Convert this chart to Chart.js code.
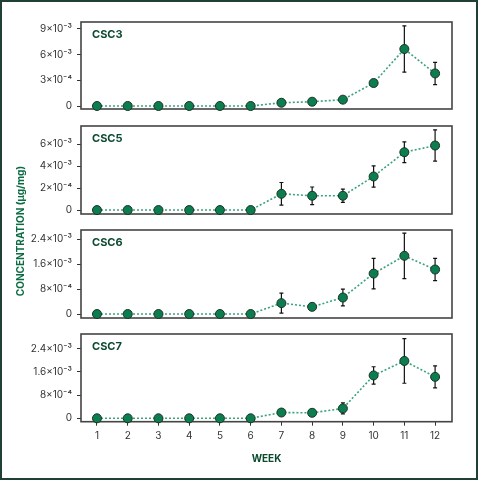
<!DOCTYPE html>
<html>
<head>
<meta charset="utf-8">
<script src="https://cdn.jsdelivr.net/npm/chart.js@4.4.0/dist/chart.umd.min.js"></script>
<style>
  body { margin: 0; background: #fff; }
  #wrap { position: relative; width: 478px; height: 480px; overflow: hidden; }
  #wrap canvas { position: absolute; left: 0; }
  #frame { position: absolute; left: 0; top: 0; width: 478px; height: 480px; box-sizing: border-box;
           border: 2px solid #1f3f37; pointer-events: none; }
  #ytitle { position: absolute; left: 20px; top: 231px; transform: translate(-50%, -50%) rotate(-90deg);
            white-space: nowrap; font: bold 10px Inter, "DejaVu Sans", sans-serif; color: #0b6b43; }
</style>
</head>
<body>
<div id="wrap">
  <canvas id="c3" width="478" height="99" style="top:16px"></canvas>
  <canvas id="c5" width="478" height="100" style="top:120px"></canvas>
  <canvas id="c6" width="478" height="100" style="top:224px"></canvas>
  <canvas id="c7" width="478" height="150" style="top:328px"></canvas>
  <div id="ytitle">CONCENTRATION (µg/mg)</div>
  <div id="frame"></div>
</div>
<script>
var weeks = [1, 2, 3, 4, 5, 6, 7, 8, 9, 10, 11, 12];

var csc3 = [0, 0, 0, 0, 0, 0, 0.00038, 0.0005, 0.00074, 0.00268, 0.00665, 0.0038];
var csc3Err = [0, 0, 0, 0, 0, 0, 0.00005, 0.00005, 0.00008, 0.0003, 0.0027, 0.0013];

var csc5 = [0, 0, 0, 0, 0, 0, 0.00148, 0.0013, 0.0013, 0.00306, 0.00527, 0.00588];
var csc5Err = [0.0001, 0, 0, 0, 0, 0, 0.00103, 0.0008, 0.0006, 0.00097, 0.00094, 0.00142];

var csc6 = [0, 0, 0, 0, 0, 0, 0.00035, 0.00023, 0.00053, 0.0013, 0.00187, 0.00143];
var csc6Err = [0, 0, 0, 0, 0, 0, 0.00032, 0.00011, 0.00027, 0.00049, 0.00073, 0.00036];

var csc7 = [0, 0, 0, 0, 0, 0, 0.0002, 0.00019, 0.00034, 0.00148, 0.00198, 0.00143];
var csc7Err = [0, 0, 0, 0, 0, 0, 0.00003, 0.0001, 0.00019, 0.0003, 0.00077, 0.00038];

var ticks3 = [0, 0.003, 0.006, 0.009];
var labels3 = ["0", "3x10⁻⁴", "6x10⁻³", "9x10⁻³"];
var ticks5 = [0, 0.002, 0.004, 0.006];
var labels5 = ["0", "2x10⁻⁴", "4x10⁻³", "6x10⁻³"];
var ticks6 = [0, 0.0008, 0.0016, 0.0024];
var labels6 = ["0", "8x10⁻⁴", "1.6x10⁻³", "2.4x10⁻³"];
var ticks7 = [0, 0.0008, 0.0016, 0.0024];
var labels7 = ["0", "8x10⁻⁴", "1.6x10⁻³", "2.4x10⁻³"];

Chart.defaults.font.family = "Inter, 'DejaVu Sans', sans-serif";
Chart.defaults.color = "#333";

// error bars + panel frame + panel name
var panelPlugin = {
  id: "panel",
  beforeDatasetsDraw: function (chart, args, opts) {
    var ctx = chart.ctx, a = chart.chartArea;
    var xs = chart.scales.x, ys = chart.scales.y;
    var vals = chart.data.datasets[0].data;
    ctx.save();
    ctx.strokeStyle = "#444";
    ctx.lineWidth = 1.6;
    ctx.strokeRect(a.left, a.top, a.right - a.left, a.bottom - a.top);
    ctx.strokeStyle = "#111";
    ctx.lineWidth = 1.2;
    vals.forEach(function (p, i) {
      var e = opts.err[i];
      if (!e) return;
      var x = xs.getPixelForValue(p.x);
      var y1 = ys.getPixelForValue(p.y + e);
      var y2 = ys.getPixelForValue(p.y - e);
      ctx.beginPath();
      ctx.moveTo(x, y1); ctx.lineTo(x, y2);
      ctx.moveTo(x - 2, y1); ctx.lineTo(x + 2, y1);
      ctx.moveTo(x - 2, y2); ctx.lineTo(x + 2, y2);
      ctx.stroke();
    });
    ctx.fillStyle = "#0b4a2e";
    ctx.font = "bold 11px Inter, 'DejaVu Sans', sans-serif";
    ctx.textBaseline = "middle";
    ctx.fillText(opts.name, a.left + 11, a.top + 13);
    ctx.restore();
  }
};

function noPad(s) {
  s.paddingTop = 0; s.paddingBottom = 0; s.paddingLeft = 0; s.paddingRight = 0;
}

function makePanel(id, name, vals, err, tickVals, tickLabels, yMin, yMax, bottom) {
  var xAxis = {
    type: "linear",
    min: 0.48,
    max: 12.55,
    display: bottom,
    border: { display: false },
    grid: { drawOnChartArea: false, tickLength: 4, color: "#333" },
    ticks: { padding: 4, font: { size: 10 }, color: "#333" },
    afterBuildTicks: function (s) { s.ticks = weeks.map(function (w) { return { value: w }; }); },
    afterFit: function (s) { noPad(s); if (bottom) s.height = 47.3; },
    title: { display: true, text: "WEEK", color: "#0b4a2e", font: { size: 10, weight: "bold" } }
  };
  return new Chart(document.getElementById(id), {
    type: "line",
    data: {
      datasets: [{
        data: weeks.map(function (w, i) { return { x: w, y: vals[i] }; }),
        borderColor: "#3aa37a",
        borderWidth: 1.6,
        borderDash: [2, 2],
        pointRadius: 4.5,
        pointBackgroundColor: "#0b7d4f",
        pointBorderColor: "#1a3326",
        pointBorderWidth: 1,
        clip: false
      }]
    },
    options: {
      responsive: false,
      animation: false,
      layout: { padding: { left: 0, right: 26, top: 6, bottom: bottom ? 9 : 6 } },
      plugins: { legend: { display: false }, tooltip: { enabled: false }, panel: { name: name, err: err } },
      scales: {
        x: xAxis,
        y: {
          min: yMin,
          max: yMax,
          border: { display: false },
          grid: { drawOnChartArea: false, tickLength: 4, color: "#333" },
          ticks: {
            padding: 5,
            font: { size: 10 },
            color: "#333",
            callback: function (v, i) { return tickLabels[i]; }
          },
          afterBuildTicks: function (s) { s.ticks = tickVals.map(function (v) { return { value: v }; }); },
          afterFit: function (s) { noPad(s); s.width = 81; }
        }
      }
    },
    plugins: [panelPlugin]
  });
}

makePanel("c3", "CSC3", csc3, csc3Err, ticks3, labels3, -0.00035, 0.0098, false);
makePanel("c5", "CSC5", csc5, csc5Err, ticks5, labels5, -0.00036, 0.00766, false);
makePanel("c6", "CSC6", csc6, csc6Err, ticks6, labels6, -0.000128, 0.0027, false);
makePanel("c7", "CSC7", csc7, csc7Err, ticks7, labels7, -0.000117, 0.00291, true);
</script>
</body>
</html>
